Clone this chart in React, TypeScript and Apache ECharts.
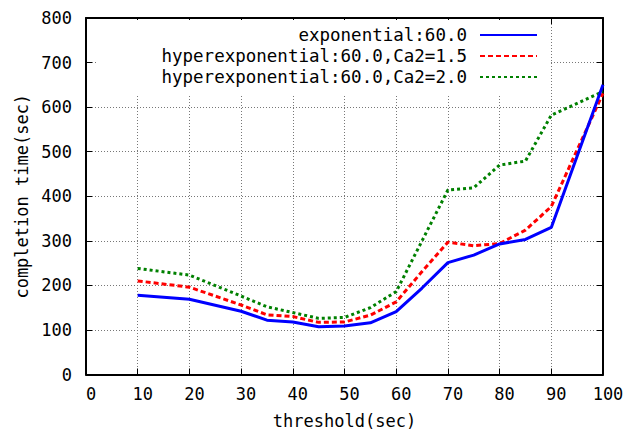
import React, { useEffect, useRef } from "react";
import * as echarts from "echarts";

const thresholds = [10, 20, 30, 35, 40, 45, 50, 55, 60, 65, 70, 75, 80, 85, 90, 100];
const seriesNames = [
  "exponential:60.0",
  "hyperexponential:60.0,Ca2=1.5",
  "hyperexponential:60.0,Ca2=2.0",
];
const exponential = [178, 169, 142, 122, 118, 107, 109, 116, 141, 194, 251, 268, 293, 303, 330, 650];
const hyper15 = [210, 196, 156, 134, 130, 117, 118, 133, 163, 231, 297, 289, 294, 324, 377, 631];
const hyper20 = [238, 223, 176, 152, 139, 126, 128, 150, 186, 300, 414, 419, 470, 479, 582, 635];
const xTicks = { min: 0, max: 100, interval: 10 };
const yTicks = { min: 0, max: 800, interval: 100 };

const FONT = "'DejaVu Sans Mono', monospace";

export default function App() {
  const ref = useRef<HTMLDivElement>(null);
  useEffect(() => {
    document.body.style.margin = "0";
    const chart = echarts.init(ref.current!, null, { renderer: "svg" });
    const colors = ["#0000ff", "#ff0000", "#008000"];
    const lineTypes: any[] = ["solid", [5, 3], [3, 3]];
    const values = [exponential, hyper15, hyper20];
    const legendTops = [26, 47, 68];
    const axisCommon = {
      axisLine: { show: true, onZero: false, lineStyle: { color: "#000", width: 2 } },
      axisTick: { show: true, inside: true, length: 6, lineStyle: { color: "#000", width: 1 } },
    };
    chart.setOption({
      animation: false,
      backgroundColor: "#fff",
      grid: { left: 86, right: 34, top: 18, bottom: 60.5 },
      xAxis: [
        {
          type: "value",
          ...xTicks,
          ...axisCommon,
          name: "threshold(sec)",
          nameLocation: "middle",
          nameGap: 38,
          nameTextStyle: { fontFamily: FONT, fontSize: 17, color: "#000" },
          axisLabel: {
            fontFamily: FONT,
            fontSize: 17,
            color: "#000",
            margin: 11,
            padding: [0, 0, 0, 10],
          },
          splitLine: { show: true, lineStyle: { color: "#777", type: [1, 2], width: 1 } },
        },
        {
          type: "value",
          position: "top",
          ...xTicks,
          ...axisCommon,
          axisLabel: { show: false },
          splitLine: { show: false },
        },
      ],
      yAxis: [
        {
          type: "value",
          ...yTicks,
          ...axisCommon,
          name: "completion time(sec)",
          nameLocation: "middle",
          nameGap: 56,
          nameRotate: 90,
          nameTextStyle: { fontFamily: FONT, fontSize: 17, color: "#000" },
          axisLabel: { fontFamily: FONT, fontSize: 17, color: "#000", margin: 14 },
          splitLine: { show: true, lineStyle: { color: "#777", type: [1, 2], width: 1 } },
        },
        {
          type: "value",
          position: "right",
          ...yTicks,
          ...axisCommon,
          axisLabel: { show: false },
          splitLine: { show: false },
        },
      ],
      graphic: [
        {
          type: "rect",
          z: 1,
          silent: true,
          shape: { x: 98, y: 20, width: 452, height: 76 },
          style: { fill: "#fff" },
        },
      ],
      legend: seriesNames.map((n, i) => ({
        data: [n],
        orient: "vertical",
        align: "right",
        right: 99,
        top: legendTops[i],
        itemWidth: 57,
        itemHeight: 14,
        padding: 0,
        itemStyle: { opacity: 0 },
        textStyle: {
          fontFamily: FONT,
          fontSize: 17.5,
          color: "#000",
          lineHeight: 18,
          padding: [0, 8, 0, 0],
        },
      })),
      series: values.map((v, i) => ({
        name: seriesNames[i],
        type: "line",
        symbol: "none",
        data: thresholds.map((x, j) => [x, v[j]]),
        lineStyle: { color: colors[i], width: 3, type: lineTypes[i] },
        itemStyle: { color: colors[i] },
        z: 3 + (2 - i),
      })),
    });
    return () => chart.dispose();
  }, []);
  return <div ref={ref} style={{ width: 637, height: 435 }} />;
}
